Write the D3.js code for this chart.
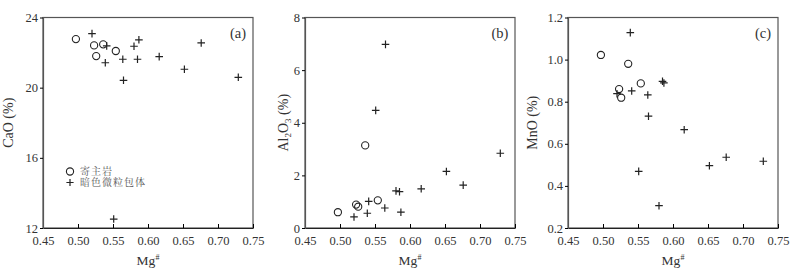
<!DOCTYPE html>
<meta charset="utf-8">
<html>
<head>
<style>
body { margin: 0; background: #fff; }
</style>
</head>
<body>
<div id="chart"></div>
<script src="https://d3js.org/d3.v7.min.js"></script>
<script>
// Mg# of the samples (host rock / dark microgranular enclaves)
var hostMg = [0.497, 0.523, 0.526, 0.536, 0.554];
var enclaveMg = [0.520, 0.541, 0.539, 0.564, 0.565, 0.551, 0.580, 0.587, 0.585, 0.616, 0.652, 0.676, 0.729];

// oxides (%)
var hostCaO = [22.77, 22.41, 21.80, 22.47, 22.09];
var enclaveCaO = [23.08, 22.38, 21.42, 21.62, 20.42, 12.51, 22.36, 22.73, 21.62, 21.77, 21.05, 22.55, 20.59];
var hostAl2O3 = [0.60, 0.89, 0.81, 3.14, 1.05];
var enclaveAl2O3 = [0.42, 1.01, 0.56, 0.76, 6.98, 4.47, 1.41, 0.60, 1.38, 1.49, 2.15, 1.63, 2.84];
var hostMnO = [1.022, 0.86, 0.819, 0.98, 0.887];
var enclaveMnO = [0.838, 0.851, 1.128, 0.832, 0.731, 0.469, 0.306, 0.889, 0.897, 0.667, 0.496, 0.536, 0.517];

var xTicks = [0.45, 0.50, 0.55, 0.60, 0.65, 0.70, 0.75];
var legendNames = ["寄主岩", "暗色微粒包体"];

var panels = [
  {tag: "(a)", oxide: ["CaO"], domain: [12, 24], ticks: [12, 16, 20, 24], fmt: d3.format("d"), host: hostCaO, enc: enclaveCaO},
  {tag: "(b)", oxide: ["Al", "2", "O", "3"], domain: [0, 8], ticks: [0, 2, 4, 6, 8], fmt: d3.format("d"), host: hostAl2O3, enc: enclaveAl2O3},
  {tag: "(c)", oxide: ["MnO"], domain: [0.2, 1.2], ticks: [0.2, 0.4, 0.6, 0.8, 1.0, 1.2], fmt: d3.format(".1f"), host: hostMnO, enc: enclaveMnO}
];

// layout
var W = 800, H = 271;
var lefts = [43, 305, 568], titleOff = [30, 17, 31];
var plotTop = 17.5, pw = 210, ph = 210.5;
var serif = "Liberation Serif, Times New Roman, serif";

var svg = d3.select("#chart").append("svg")
    .attr("width", W)
    .attr("height", H)
    .attr("font-family", serif);

panels.forEach(function(p, i) {
  var g = svg.append("g").attr("transform", "translate(" + lefts[i] + "," + plotTop + ")");

  var x = d3.scaleLinear().domain([0.45, 0.75]).range([0, pw]);
  var y = d3.scaleLinear().domain(p.domain).range([ph, 0]);

  // frame
  g.append("rect")
    .attr("width", pw).attr("height", ph)
    .attr("fill", "none").attr("stroke", "#555").attr("stroke-width", 1.2);

  var xa = g.append("g")
    .attr("transform", "translate(0," + ph + ")")
    .call(d3.axisBottom(x).tickValues(xTicks).tickFormat(d3.format(".2f"))
      .tickSizeInner(-4).tickSizeOuter(0).tickPadding(8));
  xa.attr("font-family", serif).attr("font-size", 12.5);
  xa.select(".domain").attr("stroke", "#222");
  xa.selectAll("text").attr("fill", "#333");

  var ya = g.append("g")
    .call(d3.axisLeft(y).tickValues(p.ticks).tickFormat(p.fmt)
      .tickSizeInner(3).tickSizeOuter(0).tickPadding(2));
  ya.attr("font-family", serif).attr("font-size", 12.5);
  ya.select(".domain").attr("stroke", "#555").attr("stroke-width", 1.2);
  ya.selectAll("text").attr("fill", "#333");

  // x title Mg#
  var xt = g.append("text")
    .attr("x", pw / 2).attr("y", ph + 37)
    .attr("text-anchor", "middle")
    .attr("fill", "#333")
    .attr("font-size", 13.5);
  xt.append("tspan").text("Mg");
  xt.append("tspan").attr("dy", "-5").attr("font-size", 8).text("#");

  // y title
  var yt = g.append("text")
    .attr("transform", "translate(" + (-titleOff[i]) + "," + (ph / 2) + ")rotate(-90)")
    .attr("text-anchor", "middle")
    .attr("fill", "#333")
    .attr("font-size", 14);
  if (p.oxide.length > 1) {
    yt.append("tspan").text(p.oxide[0]);
    yt.append("tspan").attr("dy", "3").attr("font-size", 9).text(p.oxide[1]);
    yt.append("tspan").attr("dy", "-3").text(p.oxide[2]);
    yt.append("tspan").attr("dy", "3").attr("font-size", 9).text(p.oxide[3]);
    yt.append("tspan").attr("dy", "-3").text(" (%)");
  } else {
    yt.text(p.oxide[0] + " (%)");
  }

  // panel tag
  g.append("text")
    .attr("x", pw - 15).attr("y", 20)
    .attr("text-anchor", "middle")
    .attr("fill", "#333")
    .attr("font-size", 14.5)
    .text(p.tag);

  // host rock: open circles
  g.selectAll(".host")
    .data(hostMg.map(function(m, k) { return [m, p.host[k]]; }))
    .enter().append("circle")
    .attr("cx", function(d) { return x(d[0]); })
    .attr("cy", function(d) { return y(d[1]); })
    .attr("r", 3.6)
    .attr("fill", "none").attr("stroke", "#222").attr("stroke-width", 1.1);

  // enclaves: crosses
  g.selectAll(".enc")
    .data(enclaveMg.map(function(m, k) { return [m, p.enc[k]]; }))
    .enter().append("path")
    .attr("transform", function(d) { return "translate(" + x(d[0]) + "," + y(d[1]) + ")"; })
    .attr("d", "M-3.8,0H3.8M0,-3.8V3.8")
    .attr("stroke", "#222").attr("stroke-width", 1.2);

  if (i === 0) {
    var lg = g.append("g").attr("transform", "translate(27,154)");
    lg.append("circle").attr("cx", 0).attr("cy", 0).attr("r", 3.6)
      .attr("fill", "none").attr("stroke", "#222").attr("stroke-width", 1.1);
    lg.append("path").attr("d", "M-3.6,11H3.6M0,7.4V14.6")
      .attr("stroke", "#222").attr("stroke-width", 1.2);
    lg.selectAll("text").data(legendNames).enter().append("text")
      .attr("x", 10).attr("y", function(d, k) { return k * 11; })
      .attr("dy", "0.35em")
      .attr("font-family", "Noto Serif CJK SC, Noto Sans CJK SC, serif")
      .attr("font-size", 10)
      .attr("fill", "#555")
      .style("letter-spacing", "1px")
      .text(function(d) { return d; });
  }
});
</script>
</body>
</html>
